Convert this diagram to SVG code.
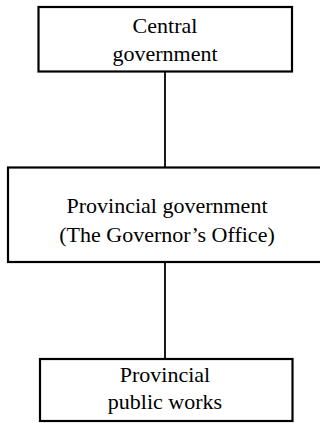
<svg xmlns="http://www.w3.org/2000/svg" width="320" height="423" viewBox="0 0 320 423">
<style>
.box{fill:#fff;stroke:#000;stroke-width:2.2}
.lbl{font-family:"Liberation Serif","Times New Roman",serif;font-size:22px;fill:#000;text-anchor:middle}
.conn{stroke:#000;stroke-width:1.8;fill:none}
</style>
<rect width="320" height="423" fill="#fff"/>
<g id="connectors">
<line class="conn" x1="165" y1="72" x2="165" y2="167"/>
<line class="conn" x1="165" y1="262" x2="165" y2="359"/>
</g>
<g id="central">
<rect class="box" x="38.5" y="7" width="253.5" height="64.5"/>
<text class="lbl" x="165" y="33">Central</text>
<text class="lbl" x="165" y="61">government</text>
</g>
<g id="provincial">
<rect class="box" x="8" y="167.5" width="316" height="94.5"/>
<text class="lbl" x="167" y="213">Provincial government</text>
<text class="lbl" x="167" y="242">(The Governor’s Office)</text>
</g>
<g id="works">
<rect class="box" x="40" y="359" width="252.5" height="62"/>
<text class="lbl" x="165" y="382">Provincial</text>
<text class="lbl" x="165" y="409">public works</text>
</g>
</svg>
